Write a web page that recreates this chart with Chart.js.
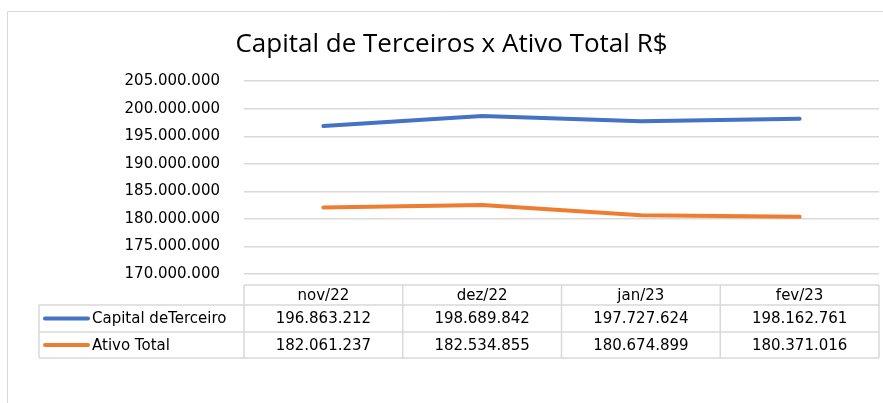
<!DOCTYPE html>
<html>
<head>
<meta charset="utf-8">
<script src="https://cdn.jsdelivr.net/npm/chart.js@4"></script>
<style>
  html, body { margin: 0; padding: 0; background: #fff; }
  #wrap { width: 883px; height: 403px; }
</style>
</head>
<body>
<div id="wrap"><canvas id="chart-capital" width="883" height="403"></canvas></div>
<script>
var months = ["nov/22", "dez/22", "jan/23", "fev/23"]
var capitalTerceiros = [196863212, 198689842, 197727624, 198162761]
var ativoTotal = [182061237, 182534855, 180674899, 180371016]
var seriesNames = ["Capital deTerceiro", "Ativo Total"]
var seriesColors = ["#4472C4", "#ED7D31"]

var tableFont = "15px 'DejaVu Sans'"
var gridColor = "#d9d9d9"

function fmt(v) {
	return Math.round(v).toString().replace(/\B(?=(\d{3})+(?!\d))/g, ".")
}

// frame round the chart, like the Excel chart area
var framePlugin = {
	id: "frame",
	beforeDraw: function(chart) {
		var ctx = chart.ctx
		ctx.save()
		ctx.strokeStyle = "#d9d9d9"
		ctx.lineWidth = 1
		ctx.beginPath()
		ctx.moveTo(7.5, 403)
		ctx.lineTo(7.5, 11.5)
		ctx.lineTo(883, 11.5)
		ctx.stroke()
		ctx.restore()
	}
}

// data table under the plot, with legend keys in the first column
var tablePlugin = {
	id: "dataTable",
	afterDraw: function(chart) {
		var ctx = chart.ctx
		var xs = chart.scales.x
		var area = chart.chartArea
		var colW = (area.right - area.left) / months.length
		var headTop = area.bottom + 11
		var rowH = [20, 27, 26]
		var tableLeft = 39
		var y1 = headTop + rowH[0]
		var y2 = y1 + rowH[1]
		var y3 = y2 + rowH[2]

		ctx.save()
		ctx.strokeStyle = gridColor
		ctx.lineWidth = 1.5
		ctx.beginPath()
		// horizontal lines
		ctx.moveTo(area.left, headTop); ctx.lineTo(area.right, headTop)
		ctx.moveTo(tableLeft, y1); ctx.lineTo(area.right, y1)
		ctx.moveTo(tableLeft, y2); ctx.lineTo(area.right, y2)
		ctx.moveTo(tableLeft, y3); ctx.lineTo(area.right, y3)
		// vertical lines
		ctx.moveTo(tableLeft, y1); ctx.lineTo(tableLeft, y3)
		for (var i = 0; i <= months.length; i++) {
			var x = area.left + i * colW
			ctx.moveTo(x, headTop); ctx.lineTo(x, y3)
		}
		ctx.stroke()

		ctx.font = tableFont
		ctx.fillStyle = "#000"
		ctx.textAlign = "center"
		ctx.textBaseline = "middle"
		var rows = [capitalTerceiros, ativoTotal]
		for (var i = 0; i < months.length; i++) {
			var cx = xs.getPixelForValue(i)
			ctx.fillText(months[i], cx, headTop + rowH[0] / 2 + 1)
			ctx.fillText(fmt(rows[0][i]), cx, y1 + rowH[1] / 2 + 1)
			ctx.fillText(fmt(rows[1][i]), cx, y2 + rowH[2] / 2 + 1)
		}

		// legend keys + names
		var midY = [y1 + rowH[1] / 2, y2 + rowH[2] / 2]
		for (var r = 0; r < 2; r++) {
			ctx.strokeStyle = seriesColors[r]
			ctx.lineWidth = 4
			ctx.lineCap = "round"
			ctx.beginPath()
			ctx.moveTo(45, midY[r]); ctx.lineTo(88, midY[r])
			ctx.stroke()
			ctx.textAlign = "left"
			ctx.fillText(seriesNames[r], 92, midY[r] + 1)
		}
		ctx.restore()
	}
}

var ctxCapital = document.getElementById("chart-capital").getContext("2d")
var chartCapital = new Chart(ctxCapital, {
	type: "line",
	data: {
		labels: months,
		datasets: [
			{
				label: seriesNames[0],
				data: capitalTerceiros,
				borderColor: seriesColors[0],
				backgroundColor: seriesColors[0],
				borderWidth: 4,
				borderCapStyle: "round",
				pointRadius: 0,
				tension: 0
			},
			{
				label: seriesNames[1],
				data: ativoTotal,
				borderColor: seriesColors[1],
				backgroundColor: seriesColors[1],
				borderWidth: 4,
				borderCapStyle: "round",
				pointRadius: 0,
				tension: 0
			}
		]
	},
	plugins: [framePlugin, tablePlugin],
	options: {
		responsive: false,
		animation: false,
		layout: { padding: { left: 24, right: 4, top: 0, bottom: 0 } },
		plugins: {
			legend: { display: false },
			tooltip: { enabled: false },
			title: {
				display: true,
				text: "Capital de Terceiros x Ativo Total R$",
				color: "#000",
				font: { family: "'Open Sans'", size: 26, weight: "normal" },
				padding: { top: 29, bottom: 21 }
			}
		},
		scales: {
			x: {
				offset: true,
				grid: { display: false },
				border: { display: false },
				ticks: { display: false },
				afterFit: function(scale) { scale.height = 129 }
			},
			y: {
				min: 170000000,
				max: 205000000,
				grid: { color: gridColor, lineWidth: 1.5, drawTicks: false },
				border: { display: false },
				ticks: {
					stepSize: 5000000,
					padding: 24,
					color: "#000",
					font: { family: "'DejaVu Sans'", size: 15 },
					callback: function(v) { return fmt(v) }
				},
				afterFit: function(scale) { scale.width = 220 }
			}
		}
	}
})
</script>
</body>
</html>
